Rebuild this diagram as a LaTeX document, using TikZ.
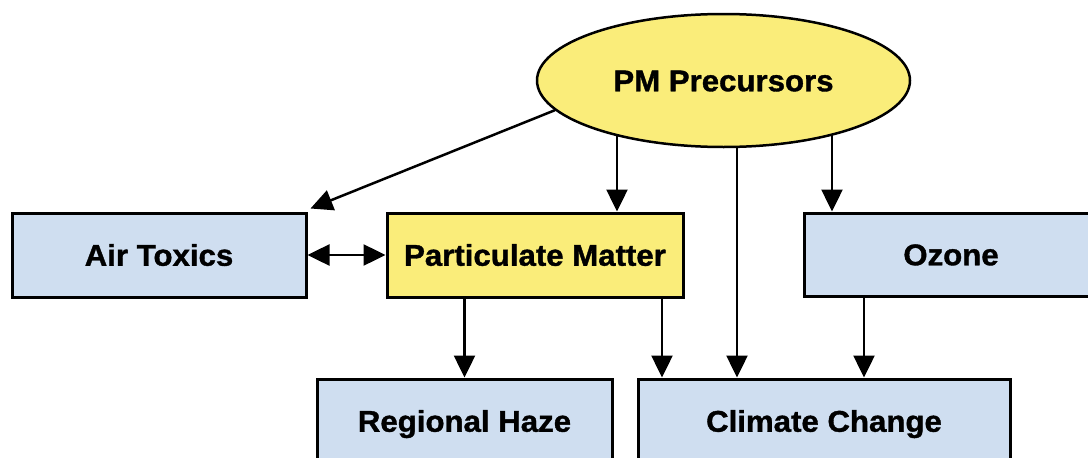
\documentclass[tikz,border=0pt]{standalone}
\usepackage{fontspec}
\setmainfont{Liberation Sans}[BoldFeatures={FakeBold=1.2,FakeStretch=1.04}]
\usetikzlibrary{shapes.geometric,arrows.meta,backgrounds}
\definecolor{boxblue}{RGB}{207,222,240}
\definecolor{boxyellow}{RGB}{250,237,122}
\begin{document}
\begin{tikzpicture}[x=1pt,y=-1pt,
  lbl/.style={font=\fontsize{30}{30}\selectfont\bfseries,text height=21.5pt,text depth=0pt,inner sep=0pt},
  box/.style={lbl,draw=black,line width=3pt,rectangle,minimum height=84pt},
  bluebox/.style={box,fill=boxblue},
  yellowbox/.style={box,fill=boxyellow},
  arr/.style={line width=2.5pt,-{Triangle[length=22pt,width=21pt]}},
  darr/.style={line width=2.5pt,{Triangle[length=22pt,width=21pt]}-{Triangle[length=22pt,width=21pt]}}]
\useasboundingbox (0,0) rectangle (1088,458);
\clip (0,0) rectangle (1088,458);

\node[lbl,ellipse,draw=black,line width=2.5pt,fill=boxyellow,minimum width=373pt,minimum height=133pt] (ell) at (723.5,80.5) {PM Precursors};
\node[bluebox,minimum width=294pt] (at) at (159,255) {Air Toxics};
\node[yellowbox,minimum width=296pt] (pm) at (535,255) {Particulate Matter};
\node[bluebox,minimum width=294pt,minimum height=83pt] (oz) at (951,254.5) {Ozone};
\node[bluebox,minimum width=295pt] (rh) at (464.5,421) {Regional Haze};
\node[bluebox,minimum width=372pt] (cc) at (824,421) {Climate Change};

\coordinate (c617) at (617,0);
\coordinate (c662) at (662,0);
\coordinate (c737) at (737,0);
\coordinate (c832) at (832,0);
\coordinate (c864) at (864,0);
\coordinate (attip) at ([shift={(3,-3)}]at.north east);

\begin{pgfonlayer}{background}
\draw[arr] (ell.190.5) -- (attip);
\draw[arr] (ell.center -| c617) -- (pm.north -| c617);
\draw[arr] (ell.center -| c737) -- (cc.north -| c737);
\draw[arr] (ell.center -| c832) -- (oz.north -| c832);
\draw[arr] (pm.center -| rh.north) -- (rh.north);
\draw[arr] (pm.center -| c662) -- (cc.north -| c662);
\draw[arr] (oz.center -| c864) -- (cc.north -| c864);
\end{pgfonlayer}
\draw[darr] (at.east) -- (pm.west);
\end{tikzpicture}
\end{document}
